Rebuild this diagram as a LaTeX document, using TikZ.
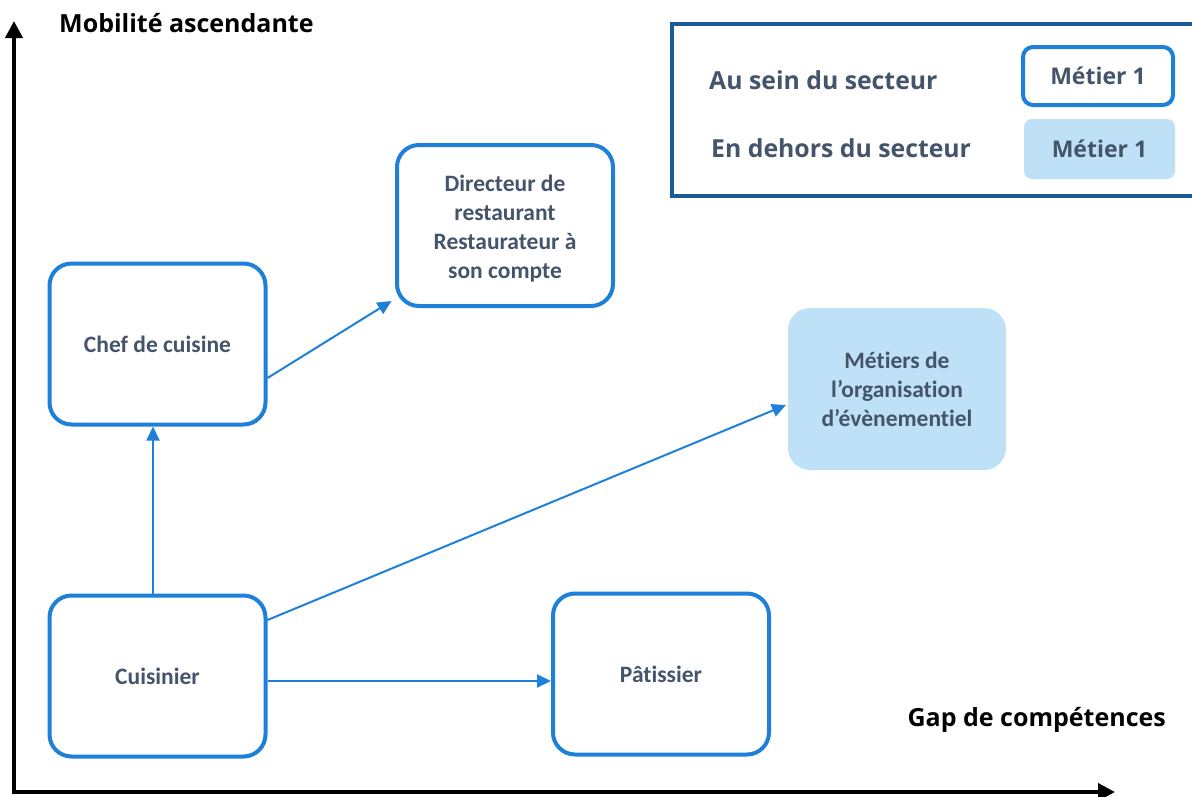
\documentclass[tikz,border=0pt]{standalone}
\usepackage{fontspec}
\setmainfont{Open Sans}
\newfontfamily\calfont[Ligatures={NoCommon,NoRare,NoContextual}]{Carlito}
\usetikzlibrary{arrows.meta}
\definecolor{bblue}{HTML}{1E80D8}
\definecolor{lblue}{HTML}{BEE1F7}
\definecolor{tcol}{HTML}{44546A}
\definecolor{dblue}{HTML}{1B5A96}
\begin{document}
\begin{tikzpicture}[x=1pt,y=-1pt,
  job/.style={draw=bblue, line width=4pt, rounded corners=22pt, minimum width=216pt, minimum height=161pt,
    align=center, text=tcol, fill=white, inner sep=0pt,
    font=\calfont\bfseries\fontsize{23.5}{29}\selectfont},
  ext/.style={job, draw=none, fill=lblue, minimum width=218pt, minimum height=162pt},
  link/.style={draw=bblue, line width=2pt, -{Triangle[length=14pt,width=13pt]}},
  axisline/.style={line width=4pt, {Triangle[length=17pt,width=17pt]}-{Triangle[length=17pt,width=17pt]}},
  legtext/.style={anchor=west, text=tcol, inner sep=0pt, font=\bfseries\fontsize{24.8}{29}\selectfont},
  legbox/.style={text=tcol, inner sep=0pt, font=\bfseries\fontsize{23}{27}\selectfont},
  axlabel/.style={inner sep=0pt, font=\bfseries\fontsize{25}{29}\selectfont}]
\useasboundingbox (0,0) rectangle (1192,796);

% axes
\coordinate (ytop) at (14,21);
\coordinate (orig) at (14,792);
\coordinate (xend) at (1115,792);
\draw[axisline] (ytop) -- (orig) -- (xend);
\node[axlabel, anchor=west] (ylab) at (59,23) {Mobilité ascendante};
\node[axlabel, anchor=east] (xlab) at (1166,720) {Gap de compétences};

% legend
\node[draw=dblue, line width=4pt, minimum width=540pt, minimum height=172pt, inner sep=0pt] (leg) at (942,110) {};
\node[legtext] (l1) at (709,80) {Au sein du secteur};
\node[legtext] (l2) at (711,148) {En dehors du secteur};
\node[legbox, draw=bblue, line width=4pt, rounded corners=10pt, minimum width=150pt, minimum height=58pt] (m1) at (1098,76) {Métier 1};
\node[legbox, fill=lblue, rounded corners=8pt, minimum width=151pt, minimum height=60pt] (m2) at (1099.5,149) {Métier 1};

% boxes
\node[job] (dir) at (505,225.5) {\rule{0pt}{22pt}Directeur de\\restaurant\\Restaurateur à\\son compte};
\node[job] (chef) at (157.5,344) {Chef de cuisine};
\node[ext] (evt) at (897,389) {Métiers de\\l’organisation\\d’évènementiel};
\node[job] (cuis) at (157.5,676) {Cuisinier};
\node[job] (pat) at (661,674) {Pâtissier};

% connectors
\draw[link] ([xshift=-4.5pt]cuis.north) -- ([xshift=-4.5pt]chef.south);
\draw[link] ([yshift=-5pt]cuis.east) -- ([yshift=-5pt]cuis.east -| pat.west);
\draw[link] ([yshift=56pt]cuis.east) -- ([yshift=-16pt]evt.west);
\draw[link] ([yshift=-34pt]chef.east) -- ([xshift=-3.5pt,yshift=7pt]dir.south west);
\end{tikzpicture}
\end{document}
